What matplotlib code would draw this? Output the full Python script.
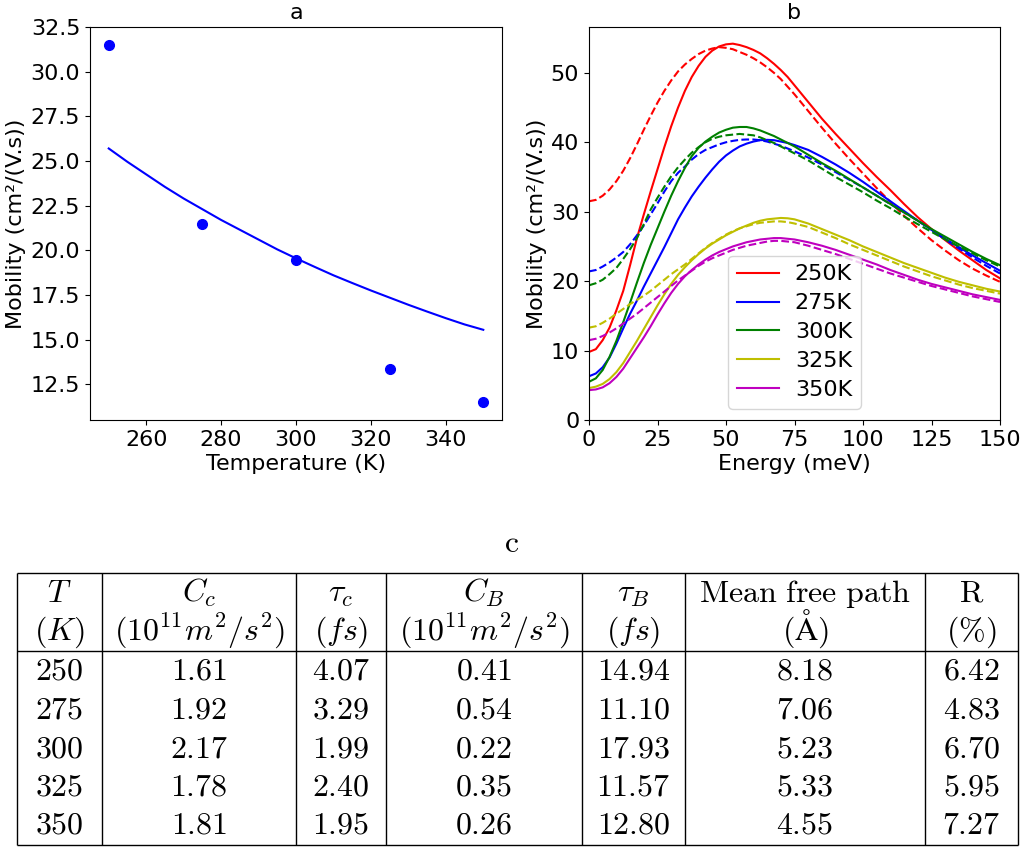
import numpy as np
import matplotlib
matplotlib.use("Agg")
import matplotlib.pyplot as plt

plt.rcParams['mathtext.fontset'] = 'cm'
plt.rcParams['font.family'] = ['DejaVu Sans']

# ---------------- panel a data ----------------
temps_meas = [250, 275, 300, 325, 350]
mob_meas = [31.5, 21.45, 19.45, 13.35, 11.5]
temps_fit = [250, 255, 260, 265, 270, 275, 280, 285, 290, 295, 300,
             305, 310, 315, 320, 325, 330, 335, 340, 345, 350]
mob_fit = [25.7, 24.95, 24.25, 23.55, 22.9, 22.3, 21.7, 21.15, 20.6, 20.05, 19.55,
           19.07, 18.6, 18.17, 17.75, 17.35, 16.95, 16.57, 16.2, 15.85, 15.55]

# ---------------- panel b data ----------------
energy = [0, 2.5, 5, 7.5, 10, 12.5, 15, 17.5, 20, 22.5, 25, 27.5, 30, 32.5, 35, 37.5,
          40, 42.5, 45, 47.5, 50, 52.5, 55, 57.5, 60, 62.5, 65, 67.5, 70, 72.5, 75,
          80, 85, 90, 95, 100, 105, 110, 115, 120, 125, 130, 135, 140, 145, 150]
labels_b = ['250K', '275K', '300K', '325K', '350K']
colors_b = ['r', 'b', 'g', 'y', 'm']
solid_250 = [9.8, 10.2, 11.5, 13.3, 15.8, 18.6, 22.3, 26.2, 29.6, 32.9, 36.1, 39.3, 42.3,
             45.0, 47.4, 49.4, 51.0, 52.3, 53.2, 53.8, 54.1, 54.2, 54.0, 53.7, 53.3,
             52.8, 52.1, 51.3, 50.4, 49.4, 48.2,
             45.8, 43.4, 41.2, 39.1, 37.0, 35.0, 33.1, 31.1, 29.2, 27.5, 25.9, 24.4,
             23.0, 21.6, 20.4]
dash_250 = [31.5, 31.7, 32.3, 33.2, 34.4, 35.9, 37.7, 39.7, 41.8, 43.8, 45.7, 47.4, 48.9,
            50.2, 51.2, 52.0, 52.7, 53.2, 53.5, 53.7, 53.6, 53.4, 53.0, 52.6, 52.1,
            51.5, 50.8, 50.0, 49.1, 48.0, 46.9,
            44.5, 42.1, 39.8, 37.6, 35.5, 33.4, 31.4, 29.4, 27.6, 25.9, 24.4, 23.0,
            21.8, 20.8, 19.9]
solid_275 = [6.3, 6.7, 7.6, 9.0, 11.0, 13.2, 15.3, 17.2, 19.2, 21.1, 23.0, 24.9, 26.9,
             28.9, 30.6, 32.2, 33.6, 34.9, 36.1, 37.2, 38.1, 38.8, 39.4, 39.8, 40.1,
             40.3, 40.35, 40.3, 40.1, 39.9, 39.6,
             38.9, 37.9, 36.8, 35.6, 34.3, 32.9, 31.5, 30.1, 28.7, 27.4, 26.1, 24.9,
             23.7, 22.6, 21.5]
dash_275 = [21.4, 21.6, 22.1, 22.7, 23.4, 24.2, 25.3, 26.6, 28.0, 29.6, 31.2, 32.9, 34.4,
            35.6, 36.5, 37.5, 38.3, 38.9, 39.3, 39.7, 40.0, 40.2, 40.35, 40.4, 40.4,
            40.3, 40.1, 39.8, 39.5, 39.1, 38.7,
            37.8, 36.8, 35.7, 34.6, 33.5, 32.3, 31.1, 29.9, 28.7, 27.4, 26.0, 24.7,
            23.4, 22.2, 21.1]
solid_300 = [5.5, 6.0, 7.2, 9.1, 11.4, 14.1, 16.9, 19.8, 22.6, 25.2, 27.6, 30.0, 32.3,
             34.4, 36.3, 38.0, 39.2, 40.1, 40.8, 41.4, 41.8, 42.1, 42.2, 42.2, 42.0,
             41.7, 41.3, 40.9, 40.4, 39.9, 39.4,
             38.2, 37.0, 35.9, 34.7, 33.5, 32.3, 31.1, 29.9, 28.7, 27.5, 26.4, 25.3,
             24.2, 23.2, 22.3]
dash_300 = [19.4, 19.7, 20.2, 21.0, 21.9, 23.2, 24.6, 26.2, 28.2, 30.3, 32.0, 33.6, 35.1,
            36.4, 37.5, 38.5, 39.3, 40.0, 40.5, 40.8, 41.0, 41.1, 41.2, 41.1, 41.0,
            40.7, 40.3, 39.9, 39.4, 38.9, 38.4,
            37.4, 36.2, 35.0, 33.9, 32.8, 31.6, 30.5, 29.3, 28.2, 27.1, 26.0, 25.0,
            24.0, 23.0, 22.1]
solid_325 = [4.6, 4.8, 5.2, 5.9, 6.9, 8.2, 9.8, 11.4, 13.1, 14.8, 16.5, 18.1, 19.6,
             20.9, 22.0, 23.0, 23.9, 24.7, 25.4, 26.0, 26.6, 27.1, 27.6, 28.0, 28.4,
             28.7, 28.9, 29.0, 29.1, 29.05, 28.9,
             28.3, 27.5, 26.7, 25.9, 25.0, 24.2, 23.4, 22.6, 21.9, 21.2, 20.5, 19.9,
             19.4, 18.9, 18.5]
dash_325 = [13.3, 13.5, 14.0, 14.6, 15.3, 16.0, 16.7, 17.3, 17.9, 18.6, 19.4, 20.2, 21.0,
            21.7, 22.4, 23.2, 24.0, 24.8, 25.5, 26.1, 26.7, 27.2, 27.6, 27.9, 28.2,
            28.4, 28.5, 28.6, 28.6, 28.5, 28.3,
            27.8, 27.0, 26.2, 25.3, 24.5, 23.7, 22.9, 22.1, 21.4, 20.7, 20.1, 19.5,
            19.0, 18.6, 18.2]
solid_350 = [4.3, 4.4, 4.7, 5.3, 6.2, 7.4, 8.9, 10.4, 11.9, 13.5, 15.2, 16.8, 18.3,
             19.6, 20.7, 21.6, 22.4, 23.1, 23.7, 24.2, 24.6, 25.0, 25.3, 25.6, 25.8,
             26.0, 26.1, 26.2, 26.2, 26.1, 26.0,
             25.6, 25.1, 24.5, 23.8, 23.1, 22.4, 21.6, 20.9, 20.2, 19.6, 19.1, 18.6,
             18.1, 17.7, 17.3]
dash_350 = [11.5, 11.7, 12.1, 12.6, 13.2, 13.9, 14.6, 15.3, 16.1, 16.9, 17.7, 18.5, 19.3,
            20.1, 20.8, 21.5, 22.2, 22.8, 23.3, 23.7, 24.1, 24.5, 24.8, 25.1, 25.3,
            25.5, 25.7, 25.8, 25.8, 25.7, 25.6,
            25.1, 24.5, 23.9, 23.2, 22.5, 21.8, 21.1, 20.5, 19.9, 19.3, 18.8, 18.3,
            17.8, 17.4, 17.0]
solids = [solid_250, solid_275, solid_300, solid_325, solid_350]
dashes = [dash_250, dash_275, dash_300, dash_325, dash_350]

# ---------------- table c data ----------------
col_head1 = [r'$T$', r'$C_c$', r'$\tau_c$', r'$C_B$', r'$\tau_B$',
             r'$\mathrm{Mean\ free\ path}$', r'$\mathrm{R}$']
col_head2 = [r'$(K)$', r'$(10^{11}m^2/s^2)$', r'$(fs)$', r'$(10^{11}m^2/s^2)$',
             r'$(fs)$', r'$(\mathrm{\AA})$', r'$(\%)$']
tab_T = ['250', '275', '300', '325', '350']
tab_Cc = ['1.61', '1.92', '2.17', '1.78', '1.81']
tab_tauc = ['4.07', '3.29', '1.99', '2.40', '1.95']
tab_CB = ['0.41', '0.54', '0.22', '0.35', '0.26']
tab_tauB = ['14.94', '11.10', '17.93', '11.57', '12.80']
tab_mfp = ['8.18', '7.06', '5.23', '5.33', '4.55']
tab_R = ['6.42', '4.83', '6.70', '5.95', '7.27']
table_cols = [tab_T, tab_Cc, tab_tauc, tab_CB, tab_tauB, tab_mfp, tab_R]

W, H = 1025, 849
fig = plt.figure(figsize=(W / 100, H / 100), dpi=100)

FS = 16

def ax_rect(x0, y0, x1, y1):
    return [x0 / W, 1 - y1 / H, (x1 - x0) / W, (y1 - y0) / H]

# panel a
axa = fig.add_axes(ax_rect(90, 27, 502, 420))
axa.plot(temps_fit, mob_fit, color='b', lw=1.5)
axa.plot(temps_meas, mob_meas, 'o', color='b', ms=7)
axa.set_xlim(245, 355)
axa.set_ylim(10.5, 32.5)
axa.set_yticks([12.5, 15.0, 17.5, 20.0, 22.5, 25.0, 27.5, 30.0, 32.5])
axa.set_xticks([260, 280, 300, 320, 340])
axa.set_xlabel('Temperature (K)', fontsize=FS, labelpad=3)
axa.set_ylabel('Mobility (cm²/(V.s))', fontsize=FS, labelpad=3)
axa.set_title('a', fontsize=FS)
axa.tick_params(labelsize=FS)

# panel b
axb = fig.add_axes(ax_rect(589, 27, 1000, 420))
for lab, c, s, d in zip(labels_b, colors_b, solids, dashes):
    axb.plot(energy, s, '-', color=c, lw=1.5, label=lab)
    axb.plot(energy, d, '--', color=c, lw=1.5)
axb.set_xlim(0, 150)
axb.set_ylim(0, 56.6)
axb.set_xticks([0, 25, 50, 75, 100, 125, 150])
axb.set_yticks([0, 10, 20, 30, 40, 50])
axb.set_xlabel('Energy (meV)', fontsize=FS, labelpad=3)
axb.set_ylabel('Mobility (cm²/(V.s))', fontsize=FS, labelpad=3)
axb.set_title('b', fontsize=FS)
axb.tick_params(labelsize=FS)
axb.legend(loc='lower center', fontsize=FS, handlelength=1.9, handletextpad=0.7,
           labelspacing=0.4, borderaxespad=0.5)

# table c
axt = fig.add_axes([0, 0, 1, 1])
axt.set_xlim(0, W)
axt.set_ylim(H, 0)
axt.axis('off')
col_edges = [17, 102, 296, 386, 582, 685, 925, 1018]
top, sep, bottom = 572.5, 651, 844.5
head_base = [601.5, 640]
row_base = [680, 718.5, 757, 795, 833.5]
TFS = 23
axt.text(512, 552.5, r'$\mathrm{c}$', ha='center', va='baseline', fontsize=TFS)
lw_t = 1.0
for yy in (top, sep, bottom):
    axt.plot([col_edges[0], col_edges[-1]], [yy, yy], color='k', lw=lw_t,
             solid_capstyle='butt')
for xe in col_edges:
    axt.plot([xe, xe], [top, bottom], color='k', lw=lw_t, solid_capstyle='butt')
for i in range(7):
    xc = 0.5 * (col_edges[i] + col_edges[i + 1])
    axt.text(xc, head_base[0], col_head1[i], ha='center', va='baseline', fontsize=TFS)
    axt.text(xc, head_base[1], col_head2[i], ha='center', va='baseline', fontsize=TFS)
    for j, v in enumerate(table_cols[i]):
        axt.text(xc, row_base[j], '$' + v + '$', ha='center', va='baseline', fontsize=TFS)

fig.savefig('out.png', dpi=100)
